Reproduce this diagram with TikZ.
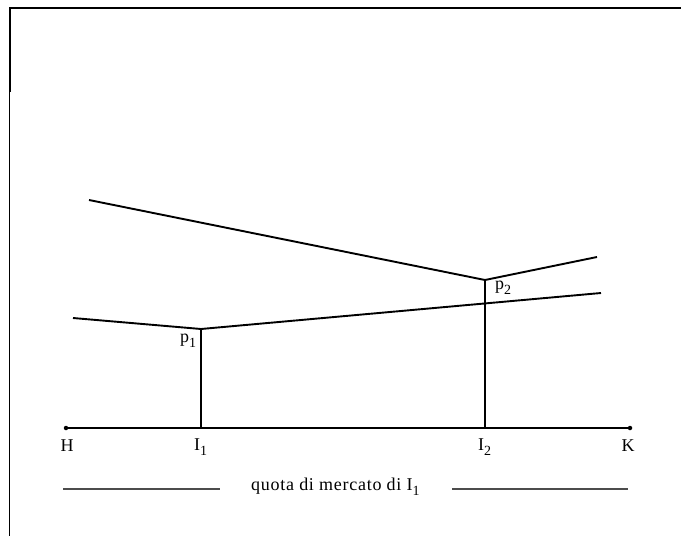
\documentclass[tikz,border=0pt]{standalone}
\usepackage{fontspec}
\setmainfont{Liberation Serif}
\newfontfamily\spaced[LetterSpace=4]{Liberation Serif}
\newcommand\lowsub[1]{\raisebox{-0.55ex}{\fontsize{14}{14}\selectfont #1}}
\tikzset{
  lbl/.style={inner sep=0pt, font=\spaced\fontsize{18}{18}\selectfont},
  curve/.style={line width=1.9pt},
  axisline/.style={line width=2.4pt},
  share/.style={line width=1.4pt, black!70},
  pt/.style={circle, fill, inner sep=0pt, minimum size=4.5pt}
}
\begin{document}
\begin{tikzpicture}[x=1pt,y=-1pt]
\useasboundingbox (0,0) rectangle (681,536);
% frame
\draw[line width=2.4pt] (9,8) -- (681,8);
\draw[line width=2.6pt] (10,8) -- (10,92);
\draw[line width=1.4pt] (9.5,92) -- (9.5,536);
% axis
\node[pt] (H) at (66,428) {};
\node[pt] (K) at (630,428) {};
\coordinate (I1) at (201,428);
\coordinate (I2) at (485,428);
\draw[axisline] (H) -- (K);
% price points
\coordinate (p1) at (201,329);
\coordinate (p2) at (485,280);
\coordinate (a1) at (89,200);
\coordinate (a2) at (597,257);
\coordinate (b1) at (73,318);
\coordinate (b2) at (601,293);
\draw[curve] (a1) -- (p2) -- (a2);
\draw[curve] (b1) -- (p1) -- (b2);
\draw[curve] (I1) -- (p1);
\draw[curve] (I2) -- (p2);
% labels
\node[lbl] (lH) at (67,446) {H};
\node[lbl] (lK) at (628,446) {K};
\node[lbl, anchor=west] (lI1) at (194,447) {I\lowsub{1}};
\node[lbl, anchor=west] (lI2) at (478,447) {I\lowsub{2}};
\node[lbl, anchor=west] (lp1) at (180,341) {p\lowsub{1}};
\node[lbl, anchor=west] (lp2) at (495,288) {p\lowsub{2}};
% market share
\node[lbl, anchor=west] (q) at (251,487) {quota di mercato di I\lowsub{1}};
\coordinate (s1) at (63,489);
\coordinate (s2) at (220,489);
\coordinate (s3) at (452,489);
\coordinate (s4) at (628,489);
\draw[share] (s1) -- (s2);
\draw[share] (s3) -- (s4);
\end{tikzpicture}
\end{document}
